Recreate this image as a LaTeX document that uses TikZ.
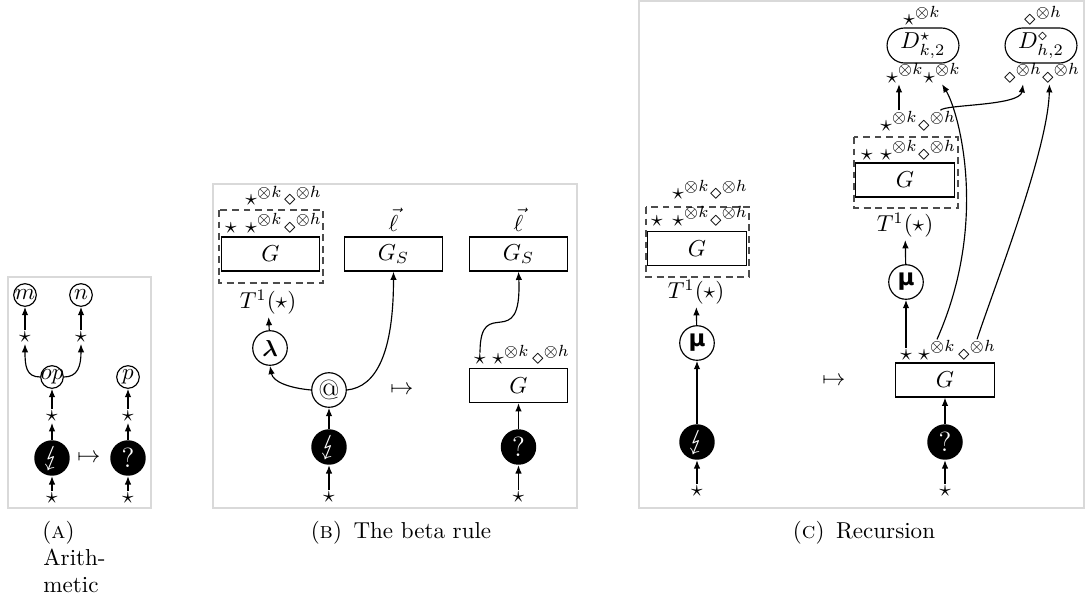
\documentclass[tikz,border=0pt]{standalone}
\usepackage{amsmath,amssymb}
\usepackage{stmaryrd}
\usepackage{fontspec}
\newfontfamily\dvs{DejaVu Sans}
\usetikzlibrary{arrows.meta,shapes.misc}
\tikzset{
  wire/.style={line width=0.5pt,-{Latex[length=3.6pt,width=2.8pt]}},
  frm/.style={draw=black!15,line width=0.8pt},
  bigc/.style={circle,draw,line width=0.5pt,minimum size=15pt,inner sep=0pt},
  smallc/.style={circle,draw,line width=0.5pt,minimum size=9.8pt,inner sep=0pt},
  blk/.style={circle,fill=black,minimum size=15.4pt,inner sep=0pt,text=white,font=\large},
  gbox/.style={draw,line width=0.5pt,minimum width=42.8pt,minimum height=14.8pt,inner sep=0pt},
  dashbox/.style={draw=black!70,line width=0.5pt,dash pattern=on 3pt off 2pt},
  dbox/.style={draw,line width=0.5pt,rounded rectangle,minimum width=31.2pt,minimum height=15.2pt,inner sep=0pt},
  lab/.style={inner sep=0.3pt,anchor=base},
  st/.style={inner sep=0.5pt},
  txt/.style={inner sep=1pt},
  captxt/.style={inner sep=0pt,anchor=base},
}
\begin{document}
\begin{tikzpicture}[x=0.434pt,y=-0.434pt]
\useasboundingbox (0,0) rectangle (1086,608);
% frames
\draw[frm] (8,277) rectangle (151,508);
\draw[frm] (213,184) rectangle (577,508);
\draw[frm] (639,1) rectangle (1084,508);

% ---------- Panel A
\node[smallc] (m) at (25,295) {$m$};
\node[smallc] (n) at (81,295) {$n$};
\node[st] (sm) at (25,337) {$\star$};
\node[st] (sn) at (81,337) {$\star$};
\node[smallc] (op) at (52,377) {\makebox[0pt]{$op$}};
\node[st] (sop) at (52,416) {$\star$};
\node[blk] (bA) at (52,458) {$\lightning$};
\node[st] (sA) at (52,498) {$\star$};
\node (mA) at (89,458) {$\mapsto$};
\node[smallc] (p) at (128,377) {$p$};
\node[st] (sp) at (128,416) {$\star$};
\node[blk] (qA) at (128,458) {?};
\node[st] (sA2) at (128,498) {$\star$};
\draw[wire] (sA) -- (bA);
\draw[wire] (bA) -- (sop);
\draw[wire] (sop) -- (op);
\draw[wire] (op.west) .. controls +(-14,0) and +(0,22) .. (sm.south);
\draw[wire] (op.east) .. controls +(14,0) and +(0,22) .. (sn.south);
\draw[wire] (sm) -- (m);
\draw[wire] (sn) -- (n);
\draw[wire] (sA2) -- (qA);
\draw[wire] (qA) -- (sp);
\draw[wire] (sp) -- (p);
\node[captxt,anchor=base west] (capA1) at (42,538) {(\textsc{a})};
\node[captxt,anchor=base west] (capA2) at (43,565) {Arith-};
\node[captxt,anchor=base west] (capA3) at (43,592) {metic};

% ---------- Panel B
\draw[dashbox] (219,210) rectangle (323,283);
\node[lab] (bu1) at (264,205.5) {$\star^{\otimes k}$};
\node[lab] (bu2) at (303,205.5) {$\diamond^{\otimes h}$};
\node[lab] (bi0) at (231,233) {$\star$};
\node[lab] (bi1) at (264,233) {$\star^{\otimes k}$};
\node[lab] (bi2) at (303,233) {$\diamond^{\otimes h}$};
\node[gbox] (GB1) at (270.5,254) {$G$};
\node[txt] (TB) at (268,302) {$T^1(\star)$};
\node[bigc] (lam) at (270,348) {$\boldsymbol{\lambda}$};
\node[bigc] (at) at (329,390) {\large @};
\node[blk] (bB) at (329,447) {$\lightning$};
\node[st] (sB) at (329,497) {$\star$};
\node[gbox] (GS1) at (393.5,254) {$G_S$};
\node[lab] (l1) at (393.5,231) {$\vec{\ell}$};
\node (mB) at (402,390) {$\mapsto$};
\node[gbox] (GS2) at (518.5,254) {$G_S$};
\node[lab] (l2) at (518.5,231) {$\vec{\ell}$};
\node[lab] (r0) at (480,364.5) {$\star$};
\node[lab] (r1) at (511,364.5) {$\star^{\otimes k}$};
\node[lab] (r2) at (551,364.5) {$\diamond^{\otimes h}$};
\node[gbox] (GB2) at (518.5,385.5) {$G$};
\node[blk] (qB) at (518.5,447) {?};
\node[st] (sB2) at (518.5,497) {$\star$};
\draw[wire] (sB) -- (bB);
\draw[wire] (bB) -- (at);
\draw[wire] (at.west) .. controls +(-22,-2) and +(3,16) .. (lam.south);
\draw[wire] (at.east) .. controls +(30,-3) and +(0,80) .. (GS1.south);
\draw[wire] (lam) -- (TB);
\draw[wire] (sB2) -- (qB);
\draw[wire] (qB) -- (GB2);
\draw[wire] (r0.north) .. controls +(0,-60) and +(3.5,84) .. (GS2.south);
\node[captxt] (capB) at (401,538) {(\textsc{b})\enspace The beta rule};

% ---------- Panel C, left
\draw[dashbox] (646,207) rectangle (749,277);
\node[lab] (cu1) at (691,199.5) {$\star^{\otimes k}$};
\node[lab] (cu2) at (729,199.5) {$\diamond^{\otimes h}$};
\node[lab] (ci0) at (657,226) {$\star$};
\node[lab] (ci1) at (691,226) {$\star^{\otimes k}$};
\node[lab] (ci2) at (729,226) {$\diamond^{\otimes h}$};
\node[gbox] (GC1) at (697,248.5) {$G$};
\node[txt] (TC1) at (696,292) {$T^1(\star)$};
\node[bigc] (mu1) at (697,343) {{\dvs\bfseries μ}};
\node[blk] (bC) at (697,442) {$\lightning$};
\node[st] (sC) at (697,491) {$\star$};
\node (mC) at (834,381) {$\mapsto$};
\draw[wire] (sC) -- (bC);
\draw[wire] (bC) -- (mu1);
\draw[wire] (mu1) -- (TC1);

% ---------- Panel C, right
\node[dbox] (DS) at (923,45.5) {$D^{\star}_{k,2}$};
\node[dbox] (DD) at (1041,45.5) {$D^{\diamond}_{h,2}$};
\node[lab] (ds0) at (922,26) {$\star^{\otimes k}$};
\node[lab] (dd0) at (1043,26) {$\diamond^{\otimes h}$};
\node[lab] (d1) at (905,83) {$\star^{\otimes k}$};
\node[lab] (d2) at (942,83) {$\star^{\otimes k}$};
\node[lab] (d3) at (1023,83) {$\diamond^{\otimes h}$};
\node[lab] (d4) at (1061,83) {$\diamond^{\otimes h}$};
\node[lab] (uk) at (899,131) {$\star^{\otimes k}$};
\node[lab] (uh) at (937,131) {$\diamond^{\otimes h}$};
\draw[dashbox] (854,137) rectangle (958,208);
\node[lab] (ui0) at (867,160) {$\star$};
\node[lab] (ui1) at (899,160) {$\star^{\otimes k}$};
\node[lab] (ui2) at (937,160) {$\diamond^{\otimes h}$};
\node[gbox] (GC2) at (905,180) {$G$};
\node[txt] (TC2) at (905,225) {$T^1(\star)$};
\node[bigc] (mu2) at (906,282) {{\dvs\bfseries μ}};
\node[lab] (bs0) at (906,360) {$\star$};
\node[lab] (bk) at (937,360) {$\star^{\otimes k}$};
\node[lab] (bh) at (977,360) {$\diamond^{\otimes h}$};
\node[gbox] (GC3) at (945,380) {$G$};
\node[blk] (qC) at (945,442) {?};
\node[st] (sC2) at (945,491) {$\star$};
\draw[wire] (sC2) -- (qC);
\draw[wire] (qC) -- (GC3);
\draw[wire] (bs0) -- (mu2);
\draw[wire] (mu2) -- (TC2);
\draw[wire] (uk.north) -- (uk.north |- d1.south);
\draw[wire] (bk.north) .. controls (990,220) and (958,110) .. (d2.south);
\draw[wire] ([xshift=1.5pt]uh.north) .. controls +(4,-6) and +(-3,22) .. (d3.south);
\draw[wire] (bh.north) .. controls (995,285) and (1048,150) .. ([xshift=-5pt]d4.south);
\node[captxt] (capC) at (864,538) {(\textsc{c})\enspace Recursion};
\end{tikzpicture}
\end{document}
